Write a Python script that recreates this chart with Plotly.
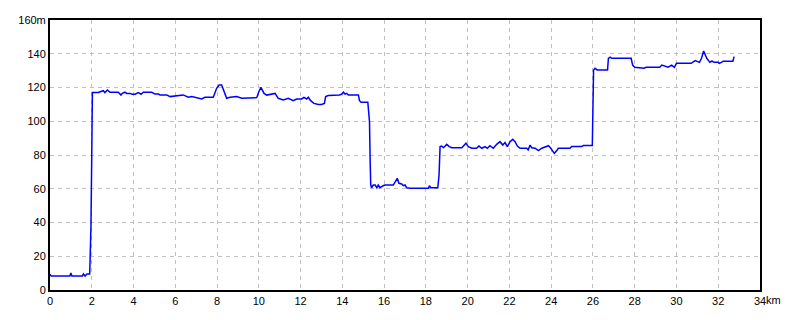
import plotly.graph_objects as go

dist_km = [
    0.00, 0.05, 0.95, 1.00, 1.05, 1.55, 1.60, 1.68, 1.77, 1.90, 1.92, 1.96, 2.00, 2.03,
    2.31, 2.39, 2.55, 2.63, 2.75, 2.87, 3.27, 3.40, 3.46, 3.59, 3.67, 3.83, 3.94, 4.07,
    4.23, 4.36, 4.47, 4.87, 5.03, 5.19, 5.27, 5.59, 5.75, 6.38, 6.62, 6.79, 7.27, 7.42,
    7.82, 7.98, 8.10, 8.22, 8.30, 8.46, 8.62, 8.94, 9.18, 9.58, 9.90, 10.00, 10.10, 10.25,
    10.38, 10.78, 10.93, 11.17, 11.41, 11.65, 11.81, 12.05, 12.16, 12.29, 12.37, 12.48,
    12.64, 12.85, 13.00, 13.14, 13.20, 13.33, 13.80, 13.86, 13.97, 14.05, 14.13, 14.21,
    14.29, 14.77, 14.82, 14.90, 15.22, 15.25, 15.30, 15.33, 15.36, 15.40, 15.48, 15.57,
    15.65, 15.72, 15.80, 15.96, 16.04, 16.44, 16.52, 16.63, 16.71, 16.84, 16.92, 17.00,
    17.08, 17.24, 18.12, 18.17, 18.23, 18.57, 18.63, 18.68, 18.76, 18.84, 19.00, 19.12,
    19.24, 19.72, 19.92, 20.03, 20.20, 20.43, 20.54, 20.68, 20.83, 20.94, 21.07, 21.23,
    21.39, 21.55, 21.68, 21.79, 21.90, 22.03, 22.16, 22.27, 22.38, 22.51, 22.83, 22.90,
    22.99, 23.07, 23.23, 23.39, 23.55, 23.71, 23.87, 23.98, 24.08, 24.15, 24.27, 24.34,
    24.90, 24.98, 25.46, 25.54, 25.97, 26.00, 26.03, 26.10, 26.20, 26.70, 26.74, 26.82,
    26.90, 27.83, 27.90, 28.00, 28.45, 28.55, 29.20, 29.30, 29.60, 29.77, 29.90, 30.00,
    30.70, 30.90, 31.10, 31.20, 31.30, 31.45, 31.60, 31.70, 31.80, 32.00, 32.05, 32.15,
    32.24, 32.70, 32.76,
]

elev_m = [
    9.5, 8.3, 8.3, 10.0, 8.3, 8.3, 9.5, 8.3, 9.5, 9.5, 18.0, 37.0, 80.0, 117.0,
    117.0, 117.5, 118.1, 117.0, 118.5, 117.2, 117.2, 115.5, 116.5, 117.2, 116.5, 116.5, 116.0, 116.0,
    117.0, 116.0, 117.2, 117.2, 116.1, 116.1, 115.6, 115.6, 114.6, 115.6, 114.2, 114.6, 113.2, 114.2,
    114.2, 119.5, 121.5, 121.5, 118.5, 113.6, 114.2, 114.6, 113.6, 113.6, 114.0, 117.5, 120.1, 116.5,
    115.5, 116.5, 113.6, 112.6, 113.6, 112.2, 113.2, 113.2, 114.2, 113.2, 114.2, 112.2,
    110.6, 110.0, 110.0, 110.6, 114.6, 115.2, 115.2, 115.6, 116.1, 117.2, 116.1, 116.5,
    115.6, 115.6, 112.2, 111.2, 111.2, 108.0, 99.7, 77.0, 62.2, 60.6, 62.2, 62.2,
    60.6, 62.2, 60.6, 61.8, 62.2, 62.2, 64.2, 66.2, 63.2, 62.8, 61.8, 62.2,
    60.6, 60.3, 60.3, 61.8, 60.6, 60.6, 68.0, 85.0, 85.3, 84.3, 86.3, 85.0,
    84.3, 84.3, 87.0, 85.0, 84.0, 84.0, 85.3, 84.0, 85.0, 84.0, 85.5, 84.0,
    86.3, 87.9, 85.9, 87.4, 85.0, 87.9, 89.3, 87.9, 85.3, 84.0, 84.0, 83.0,
    85.9, 84.3, 84.0, 82.6, 84.0, 84.6, 85.5, 84.0, 82.6, 81.0, 82.6, 84.0,
    84.0, 85.0, 85.0, 85.6, 85.6, 112.0, 130.4, 131.4, 130.4, 130.4, 137.3, 138.0,
    137.3, 137.3, 133.3, 132.0, 131.4, 132.0, 132.0, 133.3, 132.0, 133.3, 132.0, 134.3,
    134.3, 135.9, 134.9, 137.3, 141.6, 137.3, 134.9, 135.7, 134.9, 134.9, 134.3, 134.9,
    135.6, 135.6, 138.3,
]

x_tick_vals = list(range(0, 35, 2))
x_tick_text = [str(v) for v in x_tick_vals]
y_tick_vals = list(range(0, 161, 20))
y_tick_text = [str(v) for v in y_tick_vals[:-1]] + ["160m"]
x_unit = "km"

fig = go.Figure()
fig.add_trace(go.Scatter(
    x=dist_km, y=elev_m, mode="lines",
    line=dict(color="#0000ff", width=1.5),
    hoverinfo="skip", showlegend=False,
))

axis_common = dict(
    showgrid=True, gridcolor="#c0c0c0", gridwidth=1, griddash="4px,4px",
    showline=True, linecolor="#000000", linewidth=2, mirror=True,
    zeroline=False, ticks="", tickfont=dict(family="Liberation Sans", size=11, color="#000000"),
)

fig.update_xaxes(range=[0, 34], tickmode="array", tickvals=x_tick_vals,
                 ticktext=x_tick_text, **axis_common)
fig.update_yaxes(range=[0, 160], tickmode="array", tickvals=y_tick_vals,
                 ticktext=y_tick_text, **axis_common)

fig.add_annotation(x=34, xref="x", y=0, yref="paper", text=x_unit,
                   showarrow=False, xanchor="left", yanchor="top",
                   xshift=4, yshift=-2,
                   font=dict(family="Liberation Sans", size=11, color="#000000"))

fig.update_layout(
    width=800, height=320,
    margin=dict(l=50, r=40, t=20, b=30),
    paper_bgcolor="#ffffff", plot_bgcolor="#ffffff",
)

fig.write_html("out.html")
